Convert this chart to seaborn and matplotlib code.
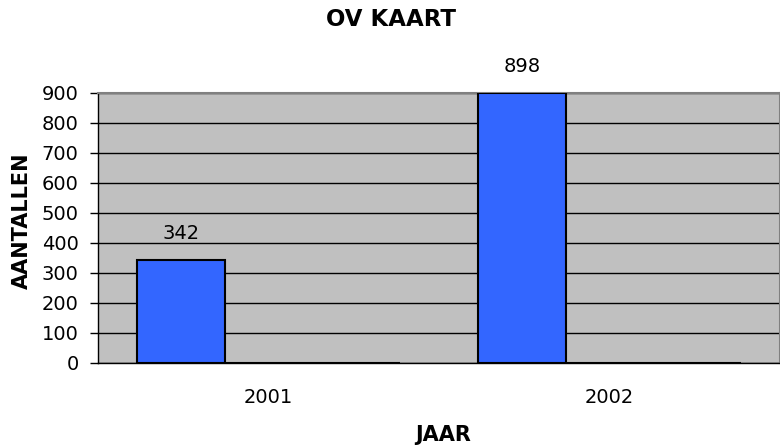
import pandas as pd
import numpy as np
import matplotlib.pyplot as plt
import seaborn as sns

# data
jaren = ['2001', '2002']
reeks_namen = ['Reeks1', 'Reeks2', 'Reeks3']
reeks1 = [342, 898]
reeks2 = [0, 0]
reeks3 = [0, 0]

df = pd.DataFrame({
    'JAAR': jaren * 3,
    'Reeks': [r for r in reeks_namen for _ in jaren],
    'AANTALLEN': reeks1 + reeks2 + reeks3,
})

sns.set_style("white")
plt.rcParams['font.family'] = ['DejaVu Sans']
plt.rcParams['text.color'] = 'black'
plt.rcParams['xtick.color'] = 'black'
plt.rcParams['ytick.color'] = 'black'

fig = plt.figure(figsize=(7.8, 4.45), dpi=100)
ax = fig.add_axes([98 / 780, 1 - 362.5 / 445, 682 / 780, 270 / 445])
ax.set_facecolor('#C0C0C0')

sns.barplot(data=df, x='JAAR', y='AANTALLEN', hue='Reeks', order=jaren,
            hue_order=reeks_namen, palette=['#3366FF', '#993366', '#FFFFCC'],
            saturation=1, width=0.77, edgecolor='black', linewidth=1.5,
            legend=False, ax=ax, zorder=3)

# labels boven de eerste reeks
for bar, v in zip(ax.containers[0], reeks1):
    ax.annotate(str(v), (bar.get_x() + bar.get_width() / 2, v),
                xytext=(0, 12.5), textcoords='offset points',
                ha='center', va='bottom', fontsize=14)

ax.set_ylim(0, 900)
ax.set_xlim(-0.5, 1.471)
ax.set_yticks(range(0, 901, 100))
ax.yaxis.grid(True, color='black', linewidth=1)
ax.set_axisbelow(True)

ax.set_xticks([0, 1])
ax.set_xticklabels(jaren)
ax.set_xticks([-0.5, 0.5, 1.5], minor=True)
ax.tick_params(axis='x', which='major', length=0, pad=18.5, labelsize=14)
ax.tick_params(axis='x', which='minor', length=5, width=1, color='black', direction='out')
ax.tick_params(axis='y', length=5.5, width=1, color='black', direction='out', labelsize=14, pad=8.5)
ax.tick_params(left=True, bottom=True)

for s in ['top', 'right']:
    ax.spines[s].set_color('#808080')
    ax.spines[s].set_linewidth(1.5)
for s in ['left', 'bottom']:
    ax.spines[s].set_color('black')
    ax.spines[s].set_linewidth(1)

ax.set_xlabel('')
ax.set_ylabel('')
fig.text(443 / 780, 1 - 435 / 445, 'JAAR', ha='center', va='center',
         fontsize=15, fontweight='bold')
fig.text(22 / 780, 1 - 221 / 445, 'AANTALLEN', ha='center', va='center',
         rotation=90, fontsize=15, fontweight='bold')
fig.text(391 / 780, 1 - 20 / 445, 'OV KAART', ha='center', va='center',
         fontsize=16.5, fontweight='bold')

fig.savefig('out.png', dpi=100)
